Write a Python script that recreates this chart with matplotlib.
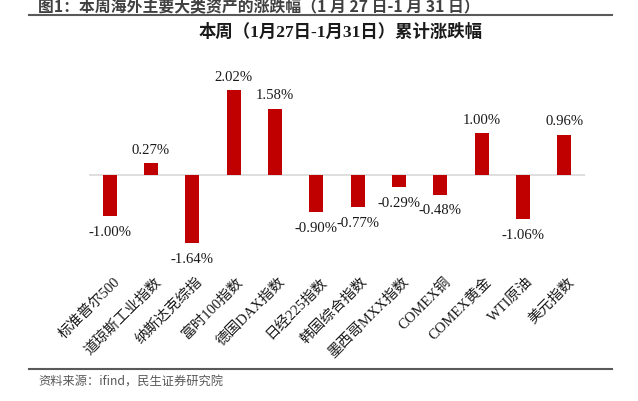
import matplotlib
matplotlib.use("Agg")
import matplotlib.pyplot as plt
from matplotlib.lines import Line2D
from matplotlib.transforms import ScaledTranslation

# data
names = ['标准普尔500', '道琼斯工业指数', '纳斯达克综指', '富时100指数', '德国DAX指数',
         '日经225指数', '韩国综合指数', '墨西哥MXX指数', 'COMEX铜', 'COMEX黄金',
         'WTI原油', '美元指数']
changes = [-1.00, 0.27, -1.64, 2.02, 1.58, -0.90, -0.77, -0.29, -0.48, 1.00, -1.06, 0.96]

header = '图1：本周海外主要大类资产的涨跌幅（1 月 27 日-1 月 31 日）'
title = '本周（1月27日-1月31日）累计涨跌幅'
source = '资料来源：ifind，民生证券研究院'

serif_cjk = ['Liberation Serif', 'Noto Sans CJK SC']
sans_cjk = ['Noto Sans CJK SC', 'DejaVu Sans']
bar_color = '#C00000'

W, H = 638, 402
fig = plt.figure(figsize=(W / 100, H / 100), dpi=100)
ax = fig.add_axes([89 / W, 0.3244, (585 - 89) / W, 0.8741 - 0.3244])

x = list(range(len(names)))
ax.bar(x, changes, width=0.34, color=bar_color, zorder=2)
ax.axhline(0, color='#d9d9d9', lw=1.2, zorder=1)
ax.set_xlim(-0.5, len(names) - 0.5)
ax.set_ylim(-2.3, 3.0)

# value labels
for i, v in enumerate(changes):
    off = 10 if v >= 0 else -11
    ax.annotate(f'{v:.2f}%', (i, v), xytext=(0, off), textcoords='offset points',
                ha='center', va='center', fontsize=10.6, family=serif_cjk, color='#1a1a1a')

for s in ax.spines.values():
    s.set_visible(False)
ax.set_yticks([])
ax.set_xticks(x)
ax.set_xticklabels(names, rotation=45, ha='right', va='center', rotation_mode='anchor',
                   fontsize=10.5, family=serif_cjk, color='#1a1a1a')
ax.tick_params(axis='x', length=0, pad=6)
shift = ScaledTranslation(0.08, 0, fig.dpi_scale_trans)
for lab in ax.get_xticklabels():
    lab.set_transform(lab.get_transform() + shift)

# header, title, source
fig.text(38 / W, 1 - 12 / H, header, ha='left', va='baseline', fontsize=11.4,
         fontweight='bold', family=sans_cjk, color='#404040')
fig.text(341 / W, 1 - 32 / H, title, ha='center', va='center', fontsize=12.5,
         fontweight='bold', family=serif_cjk, color='#1a1a1a')
fig.text(38 / W, 1 - 382 / H, source, ha='left', va='center', fontsize=8.8,
         family=sans_cjk, color='#595959')

fig.add_artist(Line2D([29 / W, 612 / W], [1 - 15.7 / H] * 2, color='#595959', lw=1.5))
fig.add_artist(Line2D([29 / W, 612 / W], [1 - 370 / H] * 2, color='#595959', lw=1.5))

fig.savefig('out.png', dpi=100)
